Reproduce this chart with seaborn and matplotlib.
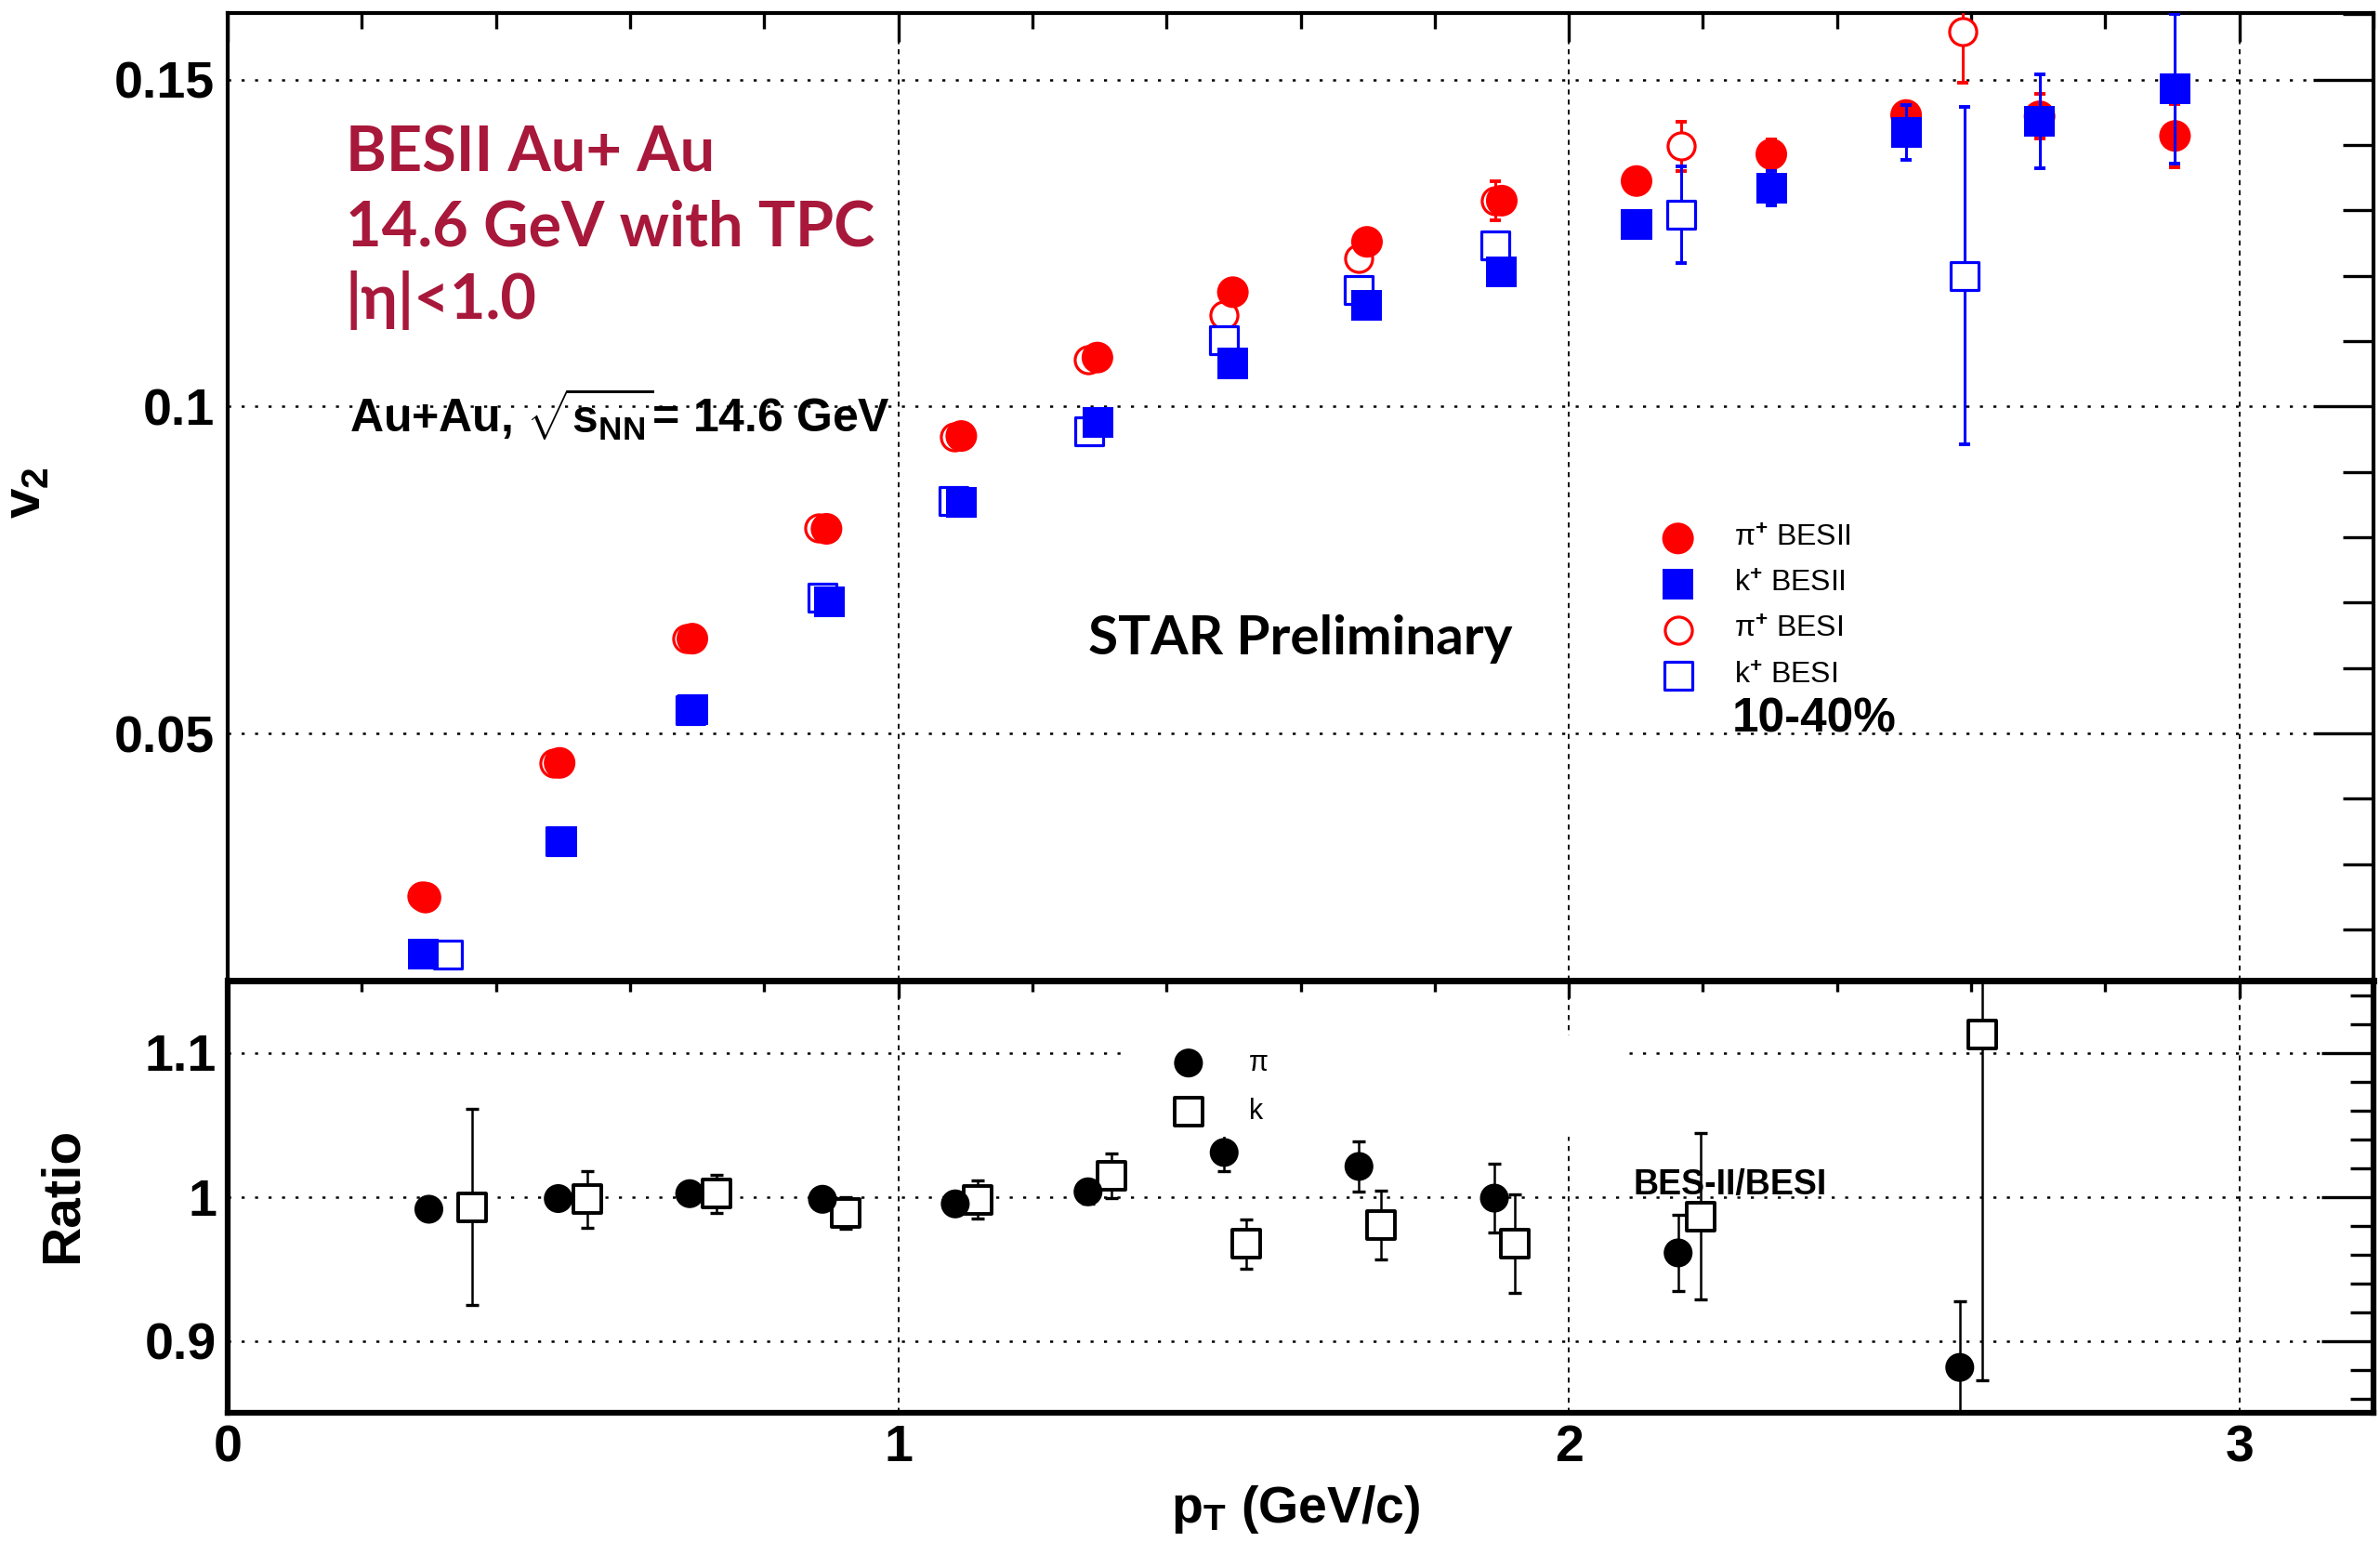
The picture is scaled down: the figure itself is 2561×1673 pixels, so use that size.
import numpy as np
import pandas as pd
import matplotlib
matplotlib.use("Agg")
import matplotlib.pyplot as plt
from matplotlib.ticker import FixedLocator, FixedFormatter, MultipleLocator
from matplotlib.patches import Rectangle
import seaborn as sns

# ---------------- data: v2 vs pT (10-40%) ----------------
pi_bes2_pt = [0.295, 0.495, 0.693, 0.893, 1.094, 1.297, 1.499, 1.699, 1.900, 2.101, 2.302, 2.503, 2.702, 2.904]
pi_bes2_v2 = [0.0249, 0.0455, 0.0645, 0.0813, 0.0955, 0.1075, 0.1175, 0.1252, 0.1315, 0.1345, 0.1386, 0.1446, 0.1444, 0.1414]
pi_bes2_err = [0.0003, 0.0003, 0.0004, 0.0005, 0.0006, 0.0008, 0.0010, 0.0012, 0.0015, 0.0018, 0.0022, 0.0020, 0.0034, 0.0048]

k_bes2_pt = [0.292, 0.498, 0.694, 0.897, 1.094, 1.298, 1.499, 1.699, 1.900, 2.101, 2.302, 2.503, 2.702, 2.904]
k_bes2_v2 = [0.0162, 0.0335, 0.0536, 0.0702, 0.0853, 0.0976, 0.1066, 0.1155, 0.1206, 0.1278, 0.1334, 0.1419, 0.1436, 0.1486]
k_bes2_err = [0.0003, 0.0004, 0.0005, 0.0006, 0.0007, 0.0008, 0.0010, 0.0013, 0.0016, 0.0020, 0.0026, 0.0042, 0.0072, 0.0115]

pi_bes1_pt = [0.290, 0.486, 0.684, 0.882, 1.084, 1.283, 1.485, 1.687, 1.891, 2.168, 2.587]
pi_bes1_v2 = [0.0251, 0.0455, 0.0645, 0.0814, 0.0954, 0.1071, 0.1140, 0.1226, 0.1315, 0.1398, 0.1573]
pi_bes1_err = [0.0003, 0.0004, 0.0005, 0.0006, 0.0007, 0.0008, 0.0010, 0.0012, 0.0030, 0.0037, 0.0077]

k_bes1_pt = [0.328, 0.496, 0.690, 0.887, 1.083, 1.285, 1.485, 1.687, 1.891, 2.168, 2.590]
k_bes1_v2 = [0.0162, 0.0335, 0.0536, 0.0708, 0.0856, 0.0962, 0.1102, 0.1178, 0.1246, 0.1294, 0.1200]
k_bes1_err = [0.0003, 0.0004, 0.0005, 0.0007, 0.0008, 0.0010, 0.0013, 0.0016, 0.0020, 0.0074, 0.0258]

# ---------------- data: BES-II / BES-I ratio ----------------
pi_ratio_pt = [0.300, 0.493, 0.689, 0.887, 1.085, 1.283, 1.486, 1.687, 1.889, 2.163, 2.583]
pi_ratio = [0.9913, 0.9987, 1.0021, 0.9982, 0.9950, 1.0034, 1.0307, 1.0210, 0.9990, 0.9610, 0.8815]
pi_ratio_err = [0.004, 0.004, 0.005, 0.006, 0.006, 0.008, 0.013, 0.0177, 0.024, 0.0265, 0.046]

k_ratio_pt = [0.365, 0.537, 0.729, 0.921, 1.119, 1.318, 1.519, 1.720, 1.919, 2.196, 2.617]
k_ratio = [0.9927, 0.9982, 1.0020, 0.9890, 0.9980, 1.0147, 0.9672, 0.9803, 0.9675, 0.9864, 1.1127]
k_ratio_err = [0.068, 0.0198, 0.013, 0.011, 0.013, 0.0155, 0.0173, 0.0237, 0.034, 0.058, 0.240]

series_labels = [r"π$^{+}$ BESII", r"k$^{+}$ BESII", r"π$^{+}$ BESI", r"k$^{+}$ BESI"]
ratio_labels = ["π", "k"]
ytick_top = [0.05, 0.10, 0.15]
ytick_top_labels = ["0.05", "0.1", "0.15"]
ytick_ratio = [0.9, 1.0, 1.1]
ytick_ratio_labels = ["0.9", "1", "1.1"]
xtick_vals = [0, 1, 2, 3]
xtick_labels = ["0", "1", "2", "3"]

RED_TEXT = "#A8183A"

# ---------------- style ----------------
sns.set_theme(style="white")
plt.rcParams["font.family"] = ["Liberation Sans", "DejaVu Sans"]
plt.rcParams["font.weight"] = "bold"
plt.rcParams["mathtext.fontset"] = "custom"
plt.rcParams["mathtext.rm"] = "Liberation Sans"
plt.rcParams["mathtext.bf"] = "Liberation Sans:bold"
plt.rcParams["mathtext.it"] = "Liberation Sans:italic"
plt.rcParams["mathtext.sf"] = "Liberation Sans"
plt.rcParams["axes.edgecolor"] = "black"
plt.rcParams["text.color"] = "black"
plt.rcParams["axes.labelcolor"] = "black"
plt.rcParams["xtick.color"] = "black"
plt.rcParams["ytick.color"] = "black"

W, H = 2561, 1673
fig = plt.figure(figsize=(W / 100, H / 100), dpi=100)
fig.patch.set_facecolor("white")


def px_box(x0, y0, x1, y1):
    return [x0 / W, 1 - y1 / H, (x1 - x0) / W, (y1 - y0) / H]


ax = fig.add_axes(px_box(245, 14, 2554, 1055))
axr = fig.add_axes(px_box(245, 1055, 2554, 1520))


def draw_series(axis, x, y, err, marker, size, color, filled, z, label=None,
                lw=2.3, elw=2.2, cap=4.0, face_open="white"):
    axis.errorbar(x, y, yerr=err, fmt="none", ecolor=color, elinewidth=elw,
                  capsize=cap, capthick=elw + 0.6, zorder=z - 0.1)
    df = pd.DataFrame({"pt": x, "val": y})
    if filled:
        sns.scatterplot(data=df, x="pt", y="val", marker=marker, s=size,
                        color=color, edgecolor="none", linewidth=0,
                        zorder=z, label=label, ax=axis)
    else:
        sns.scatterplot(data=df, x="pt", y="val", marker=marker, s=size,
                        facecolor=face_open, edgecolor=color, linewidth=lw,
                        zorder=z, label=label, ax=axis)
    return axis.collections[-1]


# ---------------- upper panel: v2 ----------------
h_pi1 = draw_series(ax, pi_bes1_pt, pi_bes1_v2, pi_bes1_err, "o", 440, "red", False, 3.0)
h_k1 = draw_series(ax, k_bes1_pt, k_bes1_v2, k_bes1_err, "s", 455, "blue", False, 3.5)
h_pi2 = draw_series(ax, pi_bes2_pt, pi_bes2_v2, pi_bes2_err, "o", 600, "red", True, 4.0)
h_k2 = draw_series(ax, k_bes2_pt, k_bes2_v2, k_bes2_err, "s", 566, "blue", True, 5.0)

# ---------------- lower panel: ratio ----------------
h_rpi = draw_series(axr, pi_ratio_pt, pi_ratio, pi_ratio_err, "o", 500, "black", True, 4.0,
                    elw=1.8, cap=5.0)
h_rk = draw_series(axr, k_ratio_pt, k_ratio, k_ratio_err, "s", 467, "black", False, 3.5,
                   lw=2.8, elw=1.8, cap=5.0)

# ---------------- axes cosmetics ----------------
for a in (ax, axr):
    a.set_facecolor("white")
    a.set_xlim(0, 3.2)
    a.xaxis.set_major_locator(FixedLocator(xtick_vals))
    a.xaxis.set_major_formatter(FixedFormatter(xtick_labels))
    a.xaxis.set_minor_locator(MultipleLocator(0.2))
    a.tick_params(which="both", direction="in", top=True, right=True,
                  labelsize=40, width=2.4, color="black")
    a.set_axisbelow(True)
    a.grid(True, axis="y", which="major", color="black",
           linestyle=(0, (1.3, 4.5)), linewidth=1.8)
    a.grid(True, axis="x", which="major", color="black",
           linestyle=(0, (3, 3)), linewidth=1.3)
    a.set_xlabel("")
    a.set_ylabel("")

ax.set_ylim(0.0122, 0.1602)
ax.yaxis.set_major_locator(FixedLocator(ytick_top))
ax.yaxis.set_major_formatter(FixedFormatter(ytick_top_labels))
ax.yaxis.set_minor_locator(MultipleLocator(0.01))
ax.tick_params(axis="y", which="major", length=47, pad=10)
ax.tick_params(axis="y", which="minor", length=24)
ax.tick_params(axis="x", which="major", length=22)
ax.tick_params(axis="x", which="minor", length=12.5)
ax.tick_params(axis="x", labelbottom=False)

axr.set_ylim(0.85, 1.15)
axr.yaxis.set_major_locator(FixedLocator(ytick_ratio))
axr.yaxis.set_major_formatter(FixedFormatter(ytick_ratio_labels))
axr.yaxis.set_minor_locator(MultipleLocator(0.02))
axr.tick_params(axis="y", which="major", length=40, pad=8.5)
axr.tick_params(axis="y", which="minor", length=18)
axr.tick_params(axis="x", which="major", length=14, pad=9)
axr.tick_params(axis="x", which="minor", length=8.5)

for s in ax.spines.values():
    s.set_color("black")
    s.set_linewidth(3.0)
ax.spines["bottom"].set_linewidth(5.0)
for s in axr.spines.values():
    s.set_color("black")
    s.set_linewidth(4.5)
axr.spines["top"].set_linewidth(5.0)

# axis titles
ax.set_ylabel(r"$\mathbf{v}_{\mathrm{2}}$", fontsize=42)
ax.yaxis.set_label_coords(-0.0823, 0.504)
axr.set_ylabel("Ratio", fontsize=42, fontweight="bold")
axr.yaxis.set_label_coords(-0.065, 0.503)
axr.set_xlabel(r"$\mathbf{p}_{\mathbf{T}}$ (GeV/c)", fontsize=40, fontweight="bold")
axr.xaxis.set_label_coords(0.4976, -0.163)

# ---------------- annotations ----------------
calibri_like = ["Lato", "DejaVu Sans"]
for txt, yy in [("BESII Au+ Au", 0.836), ("14.6 GeV with TPC", 0.7594), ("|η|<1.0", 0.684)]:
    ax.text(0.055, yy, txt, transform=ax.transAxes, color=RED_TEXT, fontsize=48,
            fontfamily=calibri_like, fontweight="bold", va="baseline", ha="left")

ax.text(0.0567, 0.5658, r"Au+Au, $\sqrt{\mathbf{s}_{\mathbf{NN}}}$= 14.6 GeV",
        transform=ax.transAxes, fontsize=36, fontweight="bold", va="baseline", ha="left")
ax.text(0.401, 0.3372, "STAR Preliminary", transform=ax.transAxes, fontsize=42,
        fontfamily=calibri_like, fontweight="bold", va="baseline", ha="left")
ax.text(0.701, 0.257, "10-40%", transform=ax.transAxes, fontsize=37,
        fontweight="bold", va="baseline", ha="left")
axr.text(0.655, 0.505, "BES-II/BESI", transform=axr.transAxes, fontsize=27,
         fontweight="bold", va="baseline", ha="left")

# ---------------- legends ----------------
leg = ax.legend([h_pi2, h_k2, h_pi1, h_k1], series_labels,
                loc="upper left", bbox_to_anchor=(0.6669, 0.471),
                bbox_transform=ax.transAxes, frameon=False,
                borderpad=0, borderaxespad=0, handlelength=1.3,
                handletextpad=1.25, labelspacing=0.6,
                prop={"size": 23, "weight": "normal"}, scatterpoints=1)
leg.set_zorder(10)

# white legend pad in the ratio panel
axr.add_patch(Rectangle((1.332, 1.0414), 2.077 - 1.332, 1.112 - 1.0414,
                        facecolor="white", edgecolor="none", zorder=4.6))
legr = axr.legend([h_rpi, h_rk], ratio_labels,
                  loc="upper left", bbox_to_anchor=(0.4385, 0.8415),
                  bbox_transform=axr.transAxes, frameon=False,
                  borderpad=0, borderaxespad=0, handlelength=1.4,
                  handletextpad=1.42, labelspacing=0.745,
                  prop={"size": 22, "weight": "normal"}, scatterpoints=1)
legr.set_zorder(10)

fig.savefig("out.png", dpi=100, facecolor="white")
